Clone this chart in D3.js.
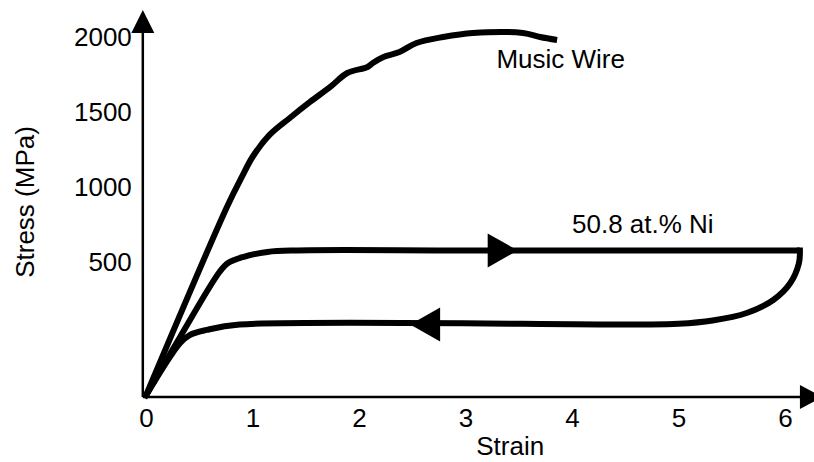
<!DOCTYPE html>
<html>
<head>
<meta charset="utf-8">
<script src="https://cdn.jsdelivr.net/npm/d3@7"></script>
<style>
  body { margin: 0; background: #fff; }
  text { font-family: "Liberation Sans", Arial, Helvetica, sans-serif; fill: #000; }
</style>
</head>
<body>
<div id="chart"></div>
<script>
// tick labels
var strainTicks = [0, 1, 2, 3, 4, 5, 6];
var stressTicks = [500, 1000, 1500, 2000];

// music wire curve (strain, stress)
var wireStrain = [0, 0.76, 0.90, 1.00, 1.16, 1.35, 1.54, 1.73, 1.89, 2.08, 2.13, 2.23, 2.38, 2.54, 2.79, 3.07, 3.54, 3.70, 3.86];
var wireStress = [-390, 867, 1067, 1200, 1347, 1460, 1567, 1667, 1760, 1800, 1827, 1867, 1900, 1960, 2000, 2027, 2027, 2000, 1980];

// 50.8 at.% Ni loop: loading branch
var loadStrain = [0, 0.32, 0.69, 0.77, 0.91, 1.14, 1.42, 3.0, 6.14];
var loadStress = [-390, 0, 433, 493, 533, 567, 577, 577, 577];

// unloading branch
var unloadStrain = [6.14, 6.13, 6.05, 5.89, 5.64, 5.32, 5.0, 4.6, 0.88, 0.57, 0.41, 0.32, 0];
var unloadStress = [577, 490, 360, 247, 160, 110, 88, 83, 83, 47, 13, -40, -390];

// direction arrows on the plateaus (tip position)
var arrowStrain = [3.49, 2.48];
var arrowStress = [577, 83];
var arrowDir = [1, -1];

var width = 814, height = 462;

var svg = d3.select("#chart")
    .append("svg")
    .attr("width", width)
    .attr("height", height);

// scales
var x = d3.scaleLinear()
    .domain([0, 6])
    .range([146, 785]);

var y = d3.scaleLinear()
    .domain([-400, 2000])
    .range([397, 37]);

var x0 = x(-0.03), y0 = y(-400);

// axis lines with arrow heads
svg.append("line")
    .attr("x1", x0).attr("y1", y0)
    .attr("x2", x0).attr("y2", y(2150))
    .attr("stroke", "#000").attr("stroke-width", 2.5);

svg.append("path")
    .attr("d", "M" + x0 + "," + y(2180) + "L" + (x0 + 11.5) + "," + y(2027) + "L" + (x0 - 11.5) + "," + y(2027) + "Z")
    .attr("fill", "#000");

svg.append("line")
    .attr("x1", x0).attr("y1", y0)
    .attr("x2", x(6.25)).attr("y2", y0)
    .attr("stroke", "#000").attr("stroke-width", 2.5);

svg.append("path")
    .attr("d", "M" + x(6.35) + "," + y0 + "L" + x(6.14) + "," + (y0 - 12) + "L" + x(6.14) + "," + (y0 + 12) + "Z")
    .attr("fill", "#000");

// tick labels (no tick marks)
var xAxis = d3.axisBottom(x).tickValues(strainTicks).tickSize(0).tickPadding(12).tickFormat(d3.format("d"));
var yAxis = d3.axisLeft(y).tickValues(stressTicks).tickSize(0).tickPadding(11).tickFormat(d3.format("d"));

svg.append("g")
    .attr("class", "x-axis")
    .attr("transform", "translate(0," + y0 + ")")
    .call(xAxis);

svg.append("g")
    .attr("class", "y-axis")
    .attr("transform", "translate(" + x0 + ",0)")
    .call(yAxis);

svg.selectAll(".x-axis .domain, .y-axis .domain").remove();
svg.selectAll(".x-axis text, .y-axis text")
    .attr("font-size", 26)
    .attr("font-family", "Liberation Sans, Arial, sans-serif")
    .attr("fill", "#000");

// axis titles
svg.append("text")
    .attr("x", x(3.42))
    .attr("y", 455)
    .attr("text-anchor", "middle")
    .attr("font-size", 26)
    .text("Strain");

svg.append("text")
    .attr("transform", "translate(34," + y(900) + ") rotate(-90)")
    .attr("text-anchor", "middle")
    .attr("font-size", 26)
    .text("Stress (MPa)");

// curves
var line = d3.line()
    .x(function(d) { return x(d[0]); })
    .y(function(d) { return y(d[1]); })
    .curve(d3.curveCatmullRom.alpha(0.5));

function pairs(a, b) {
    return a.map(function(v, i) { return [v, b[i]]; });
}

svg.append("path")
    .datum(pairs(wireStrain, wireStress))
    .attr("d", line)
    .attr("fill", "none")
    .attr("stroke", "#000")
    .attr("stroke-width", 6)
    .attr("stroke-linejoin", "round");

svg.append("path")
    .datum(pairs(loadStrain, loadStress))
    .attr("d", line)
    .attr("fill", "none")
    .attr("stroke", "#000")
    .attr("stroke-width", 6)
    .attr("stroke-linejoin", "round");

svg.append("path")
    .datum(pairs(unloadStrain, unloadStress))
    .attr("d", line)
    .attr("fill", "none")
    .attr("stroke", "#000")
    .attr("stroke-width", 6)
    .attr("stroke-linecap", "square")
    .attr("stroke-linejoin", "round");

// plateau arrows
svg.selectAll(".dir-arrow")
    .data(arrowStrain.map(function(s, i) { return [s, arrowStress[i], arrowDir[i]]; }))
    .enter()
    .append("path")
    .attr("class", "dir-arrow")
    .attr("d", function(d) {
        var tx = x(d[0]), ty = y(d[1]), bx = tx - d[2] * 30;
        return "M" + tx + "," + ty + "L" + bx + "," + (ty - 17) + "L" + bx + "," + (ty + 17) + "Z";
    })
    .attr("fill", "#000");

// curve labels
svg.append("text")
    .attr("x", x(3.29))
    .attr("y", 68)
    .attr("font-size", 26)
    .text("Music Wire");

svg.append("text")
    .attr("x", x(4.0))
    .attr("y", 233)
    .attr("font-size", 26)
    .text("50.8 at.% Ni");
</script>
</body>
</html>
